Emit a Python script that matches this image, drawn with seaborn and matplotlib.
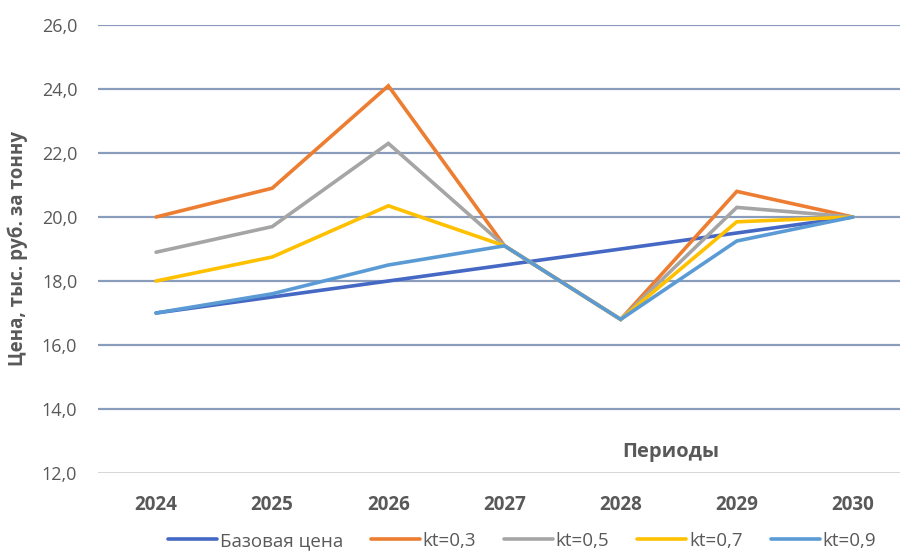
import matplotlib
matplotlib.use("Agg")
import matplotlib.pyplot as plt
import seaborn as sns
import pandas as pd
from matplotlib.lines import Line2D

years = [2024, 2025, 2026, 2027, 2028, 2029, 2030]
series_names = ["Базовая цена", "kt=0,3", "kt=0,5", "kt=0,7", "kt=0,9"]
base_price = [17.0, 17.5, 18.0, 18.5, 19.0, 19.5, 20.0]
kt_03 = [20.0, 20.9, 24.1, 19.1, 16.8, 20.8, 20.0]
kt_05 = [18.9, 19.7, 22.3, 19.1, 16.8, 20.3, 20.0]
kt_07 = [18.0, 18.75, 20.35, 19.1, 16.8, 19.85, 20.0]
kt_09 = [17.0, 17.6, 18.5, 19.1, 16.8, 19.25, 20.0]
y_ticks = [12, 14, 16, 18, 20, 22, 24, 26]
colors = ["#4468C4", "#ED7D31", "#A5A5A5", "#FFC000", "#5B9BD5"]

rows = []
for name, vals in zip(series_names, [base_price, kt_03, kt_05, kt_07, kt_09]):
    for i, (yr, v) in enumerate(zip(years, vals)):
        rows.append({"pos": i, "year": str(yr), "series": name, "value": v})
df = pd.DataFrame(rows)

sns.set_theme(style="white")
plt.rcParams["font.family"] = ["Open Sans", "DejaVu Sans"]

fig = plt.figure(figsize=(9, 5.51), dpi=100)
ax = fig.add_axes([98 / 900, 1 - 473 / 551, (911 - 98) / 900, (473 - 25) / 551])

# horizontal gridlines; the bottom one doubles as the category axis line
for y in y_ticks:
    if y == 12:
        ax.axhline(y, color="#D0D0D0", lw=1.2, zorder=1)
    else:
        ax.axhline(y, color="#8A9CBC", lw=1.6, zorder=1)

sns.lineplot(data=df, x="pos", y="value", hue="series", hue_order=series_names,
             palette=colors, linewidth=2.6, legend=False, ax=ax, zorder=3,
             solid_joinstyle="miter")

ax.set_xlim(-0.5, 6.5)
ax.set_ylim(12, 26)
ax.set_xticks(range(len(years)))
ax.set_xticklabels([str(y) for y in years], fontsize=13.5, fontweight="bold", color="#595959")
ax.set_yticks(y_ticks)
ax.set_yticklabels([f"{y:.1f}".replace(".", ",") for y in y_ticks], fontsize=13, color="#595959")
ax.tick_params(axis="x", length=0, pad=16)
ax.tick_params(axis="y", length=0, pad=15)
for s in ax.spines.values():
    s.set_visible(False)
ax.set_xlabel("")
ax.set_ylabel("Цена, тыс. руб. за тонну", fontsize=13.5, fontweight="bold", color="#595959")
ax.yaxis.set_label_coords(-0.086, 0.5)

ax.text(4.43, 12.65, "Периоды", fontsize=14.5, fontweight="bold", color="#595959",
        ha="center", va="center")

handles = [Line2D([0], [0], color=c, lw=2.6) for c in colors]
fig.legend(handles, series_names, loc="center", bbox_to_anchor=(0.58, 1 - 541 / 551),
           ncol=5, frameon=False, fontsize=13.5, handlelength=2.6, handletextpad=0.15,
           columnspacing=1.5, labelcolor="#595959")

fig.savefig("out.png", dpi=100)
